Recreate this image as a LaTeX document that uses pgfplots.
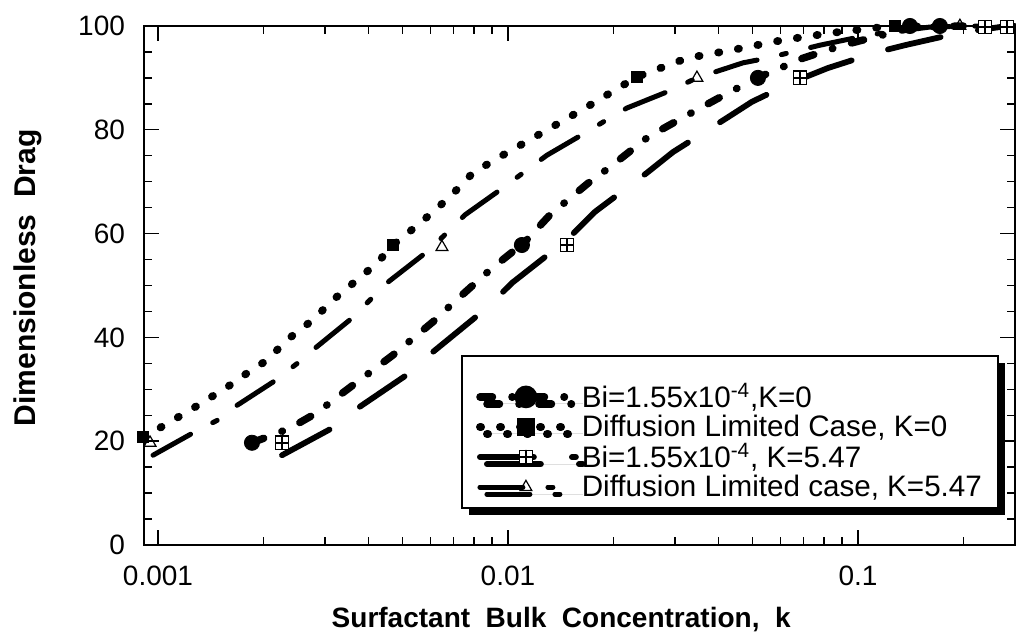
\documentclass[border=0pt]{standalone}
\usepackage{fontspec}
\setmainfont{Liberation Sans}
\usepackage{pgfplots}
\pgfplotsset{compat=1.18}
\usetikzlibrary{shadows,plotmarks}

\pgfdeclareplotmark{boxplus}{%
 \pgfpathrectangle{\pgfpoint{-\pgfplotmarksize}{-\pgfplotmarksize}}{\pgfpoint{2\pgfplotmarksize}{2\pgfplotmarksize}}%
 \pgfusepathqfillstroke
 \pgfpathmoveto{\pgfpoint{-\pgfplotmarksize}{0pt}}\pgfpathlineto{\pgfpoint{\pgfplotmarksize}{0pt}}%
 \pgfpathmoveto{\pgfpoint{0pt}{-\pgfplotmarksize}}\pgfpathlineto{\pgfpoint{0pt}{\pgfplotmarksize}}%
 \pgfusepathqstroke}

\tikzset{
 sA/.style={line width=3.7pt, line cap=round, dash pattern=on 6.3pt off 9.7pt on 0.3pt off 9.7pt},
 sB/.style={line width=3.9pt, line cap=round, dash pattern=on 0.6pt off 9.4pt},
 sC/.style={line width=2.9pt, line cap=round, dash pattern=on 27pt off 19pt},
 sD/.style={line width=2.5pt, line cap=round, dash pattern=on 21.5pt off 12.5pt on 2.5pt off 12.5pt},
 mA/.style={mark=*, mark size=3.8pt, mark options={solid, fill=black}},
 mB/.style={mark=square*, mark size=2.7pt, mark options={solid, fill=black}},
 mC/.style={mark=boxplus, mark size=3.3pt, mark options={solid, fill=white, line width=0.8pt}},
 mD/.style={mark=triangle, mark size=3.4pt, mark options={solid, fill=white, line width=0.6pt}},
}
\newcommand{\lt}[1]{\makebox[200pt][l]{#1}}

\begin{document}
\begin{tikzpicture}
\useasboundingbox (-72pt,-45.5pt) rectangle (436pt,272.5pt);
\begin{axis}[
 at={(0,0)}, anchor=south west,
 scale only axis, width=435.5pt, height=259.5pt,
 xmode=log, xmin=0.000912, xmax=0.281, ymin=0, ymax=100,
 xtick={0.001,0.01,0.1}, xticklabels={0.001,0.01,0.1},
 minor xtick={0.002,0.003,0.004,0.005,0.006,0.007,0.008,0.009,0.02,0.03,0.04,0.05,0.06,0.07,0.08,0.09,0.2},
 ytick={0,20,40,60,80,100}, minor y tick num=3,
 axis line style={line width=0.8pt},
 tick style={line width=0.7pt, black},
 major tick length=7.5pt, minor tick length=3.8pt,
 tick label style={font=\fontsize{14}{16}\selectfont},
 /pgf/number format/assume math mode=true,
 xticklabel style={yshift=-7pt},
 yticklabel style={xshift=-6pt},
 xlabel={Surfactant\ \ Bulk\ \ Concentration,\ \ k},
 ylabel={Dimensionless\ \ Drag},
 xlabel style={font=\bfseries\fontsize{14}{16}\selectfont, at={(axis description cs:0.479,-0.158)}, anchor=base},
 ylabel style={font=\bfseries\fontsize{15}{17}\selectfont, at={(axis description cs:-0.1332,0.515)}, anchor=center},
 clip=false,
 legend style={at={(axis description cs:0.364,0.366)}, anchor=north west,
   draw=black, line width=1pt, fill=white,
   drop shadow={shadow xshift=3.5pt, shadow yshift=-3.5pt, fill=black, opacity=1},
   inner xsep=7pt, inner ysep=3.5pt, row sep=0pt,
   cells={anchor=west}, nodes={inner xsep=1pt, inner ysep=1pt},
   font=\fontsize{14.8}{17}\selectfont},
 legend cell align=left,
 legend image code/.code={\draw[mark repeat=2,mark phase=2,#1] plot coordinates {(0pt,0pt) (23pt,0pt) (48pt,0pt)};},
]
% Series A: Bi, K=0
\addplot[black, sA, forget plot] coordinates {
(0.001856,19.7) (0.002383,22.5) (0.002865,25.6) (0.003162,27.9) (0.004692,36.6)
(0.006105,43.0) (0.006964,46.6) (0.008884,53.0) (0.01118,58.4) (0.01318,63.6)
(0.01693,69.7) (0.01956,72.8) (0.02512,78.6) (0.03268,82.9) (0.04307,87.3)
(0.05248,90.2) (0.06964,93.8) (0.09060,96.3) (0.1034,97.3) (0.1408,99.6)
(0.1715,99.9) (0.2000,100)};
% Series B: Diffusion limited, K=0
\addplot[black, sB, forget plot] coordinates {
(0.000906,20.8) (0.000968,21.8) (0.001133,24.5) (0.001292,26.8) (0.001575,30.4)
(0.001796,33.1) (0.002048,35.6) (0.002336,39.5) (0.002773,43.4) (0.003162,47.2)
(0.004224,54.3) (0.004692,57.8) (0.005605,62.0) (0.006828,67.1) (0.007943,71.7)
(0.009487,74.8) (0.01318,80.3) (0.01681,84.4) (0.02336,90.2) (0.03246,93.8)
(0.04394,95.4) (0.06105,97.3) (0.08483,98.7) (0.1179,99.8) (0.1832,100)};
% Series C: Bi, K=5.47
\addplot[black, sC, forget plot] coordinates {
(0.002261,17.3) (0.003141,22.5) (0.003728,26.4) (0.005145,32.8) (0.006105,37.2)
(0.00871,45.7) (0.01027,50.5) (0.01474,58.8) (0.01773,64.2) (0.02494,71.7)
(0.02960,75.7) (0.04224,82.3) (0.04979,85.4) (0.06520,89.2) (0.08208,91.9)
(0.1141,95.0) (0.1362,96.3) (0.1956,98.7) (0.2545,99.8) (0.281,100)};
% Series D: Diffusion limited, K=5.47
\addplot[black, sD, forget plot] coordinates {
(0.000968,17.3) (0.001259,21.6) (0.001484,24.1) (0.001638,26.4) (0.002131,31.4)
(0.002512,35.1) (0.002773,37.6) (0.003583,43.7) (0.004511,50.5) (0.005869,56.5)
(0.006828,60.7) (0.007535,63.6) (0.009487,68.4) (0.01292,75.1) (0.01681,79.6)
(0.01956,82.3) (0.02188,84.2) (0.02846,87.3) (0.03467,90.0) (0.04692,92.9)
(0.05495,93.8) (0.07786,96.3) (0.1082,98.3) (0.1606,99.8) (0.2232,100)};
% markers
\addplot[black, only marks, mA, forget plot] coordinates {
(0.001856,19.7) (0.01096,57.8) (0.05179,90) (0.1408,100) (0.1715,100)};
\addplot[black, only marks, mB, forget plot] coordinates {
(0.000906,20.8) (0.004692,57.8) (0.02336,90.2) (0.1276,100)};
\addplot[black, only marks, mC, forget plot] coordinates {
(0.002261,19.7) (0.01474,57.8) (0.06828,90) (0.2306,99.8) (0.2666,99.8)};
\addplot[black, only marks, mD, forget plot] coordinates {
(0.000949,19.7) (0.006477,57.4) (0.03467,90) (0.1956,100)};
% legend
\addlegendimage{empty legend}
\addlegendentry{\rule{0pt}{5.5pt}}
\addlegendimage{black, sA, mA}
\addlegendentry{\lt{Bi=1.55x10\textsuperscript{-4},K=0}}
\addlegendimage{black, sB, mB}
\addlegendentry{\lt{Diffusion Limited Case, K=0}}
\addlegendimage{black, sC, mC}
\addlegendentry{\lt{Bi=1.55x10\textsuperscript{-4}, K=5.47}}
\addlegendimage{black, sD, mD}
\addlegendentry{\lt{Diffusion Limited case, K=5.47}}
\end{axis}
\end{tikzpicture}
\end{document}
